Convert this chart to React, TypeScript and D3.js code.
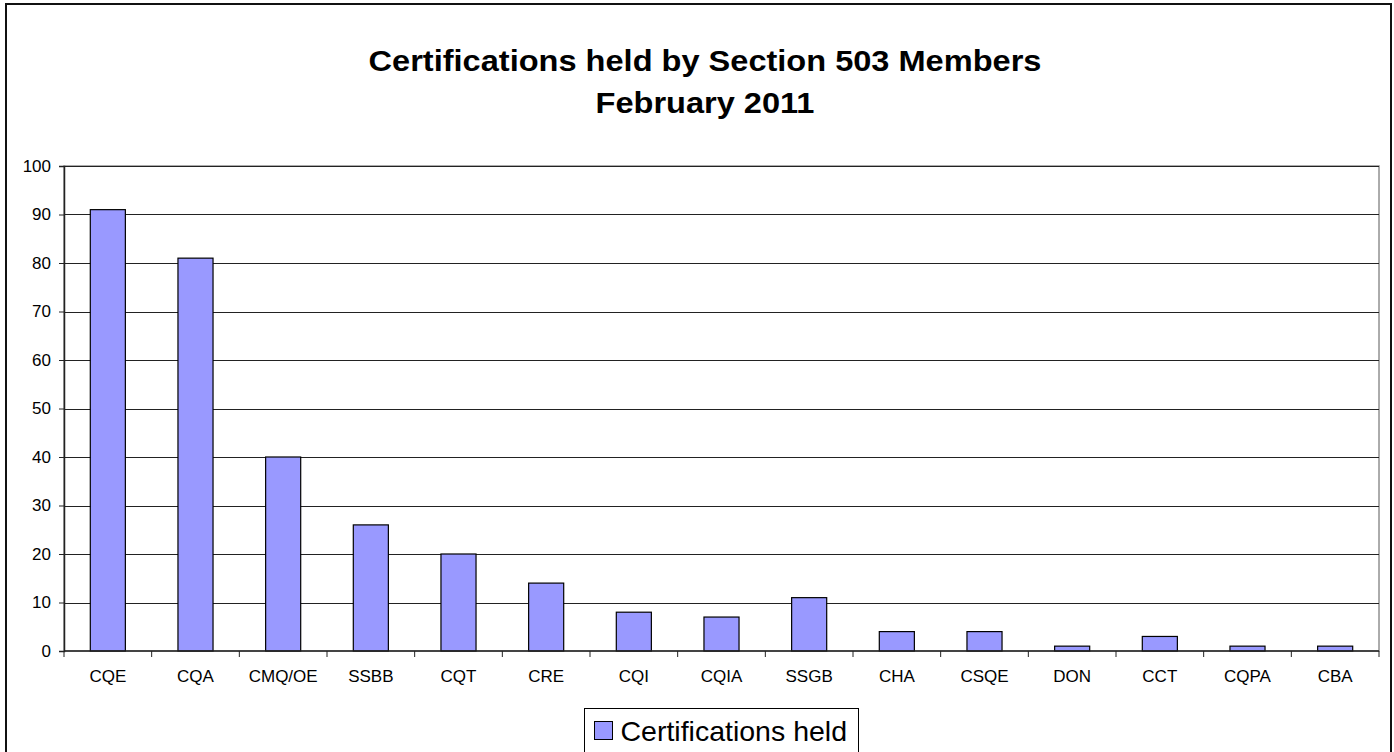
import { useEffect, useRef } from "react";
import * as d3 from "d3";

const categories = [
  "CQE", "CQA", "CMQ/OE", "SSBB", "CQT", "CRE", "CQI", "CQIA",
  "SSGB", "CHA", "CSQE", "DON", "CCT", "CQPA", "CBA",
];
const heldValues = [91, 81, 40, 26, 20, 14, 8, 7, 11, 4, 4, 1, 3, 1, 1];
const yTicks = [0, 10, 20, 30, 40, 50, 60, 70, 80, 90, 100];
const titleLines = ["Certifications held by Section 503 Members", "February 2011"];
const seriesName = "Certifications held";

const W = 1394;
const H = 752;
const margin = { top: 166, right: 15, bottom: 101, left: 64 };
const barColor = "#9999FF";
const font = "'Liberation Sans', Arial, sans-serif";

export default function App() {
  const ref = useRef<SVGSVGElement>(null);

  useEffect(() => {
    const svg = d3.select(ref.current).select<SVGGElement>("g.chart");
    svg.selectAll("*").remove();

    const innerW = W - margin.left - margin.right;
    const innerH = H - margin.top - margin.bottom;

    // title
    svg
      .append("g")
      .attr("transform", "translate(705,0) scale(1.085,1)")
      .selectAll("text")
      .data(titleLines)
      .enter()
      .append("text")
      .attr("x", 0)
      .attr("y", (_, i) => 71 + i * 42)
      .attr("text-anchor", "middle")
      .attr("font-family", font)
      .attr("font-weight", "bold")
      .attr("font-size", 30)
      .text((d) => d);

    const g = svg
      .append("g")
      .attr("transform", `translate(${margin.left},${margin.top})`);

    const x = d3.scaleBand().domain(categories).range([0, innerW]).paddingInner(0.6).paddingOuter(0.3);
    const bandStep = innerW / categories.length;
    const y = d3.scaleLinear().domain([0, 100]).range([innerH, 0]);

    // plot area border (gray)
    g.append("rect")
      .attr("x", 0)
      .attr("y", 0)
      .attr("width", innerW)
      .attr("height", innerH)
      .attr("fill", "white")
      .attr("stroke", "#909090")
      .attr("stroke-width", 1.5);

    // gridlines
    g.selectAll(".grid")
      .data(yTicks.filter((t) => t > 0))
      .enter()
      .append("line")
      .attr("x1", 0)
      .attr("x2", innerW)
      .attr("y1", (d) => Math.round(y(d)) + 0.5)
      .attr("y2", (d) => Math.round(y(d)) + 0.5)
      .attr("stroke", "#222")
      .attr("stroke-width", 1);

    // bars
    g.selectAll(".bar")
      .data(heldValues)
      .enter()
      .append("rect")
      .attr("x", (_, i) => x(categories[i])!)
      .attr("y", (d) => y(d))
      .attr("width", x.bandwidth())
      .attr("height", (d) => innerH - y(d))
      .attr("fill", barColor)
      .attr("stroke", "black")
      .attr("stroke-width", 1.2);

    // y axis
    const yAxis = g
      .append("g")
      .call(d3.axisLeft(y).tickValues(yTicks).tickSize(5).tickPadding(8))
      .attr("font-family", font)
      .attr("font-size", 17);
    yAxis.select(".domain").attr("stroke", "#222").attr("stroke-width", 1.5);
    yAxis.selectAll(".tick line").attr("stroke", "#222");
    yAxis.selectAll("text").attr("fill", "black");

    // x axis
    const xg = g.append("g").attr("transform", `translate(0,${innerH})`);
    xg.append("line")
      .attr("x1", 0)
      .attr("x2", innerW)
      .attr("stroke", "#222")
      .attr("stroke-width", 1.5);
    xg.selectAll(".xtick")
      .data(d3.range(categories.length + 1))
      .enter()
      .append("line")
      .attr("x1", (i) => i * bandStep)
      .attr("x2", (i) => i * bandStep)
      .attr("y1", 0)
      .attr("y2", 6)
      .attr("stroke", "#222");
    xg.selectAll(".xlabel")
      .data(categories)
      .enter()
      .append("text")
      .attr("x", (d) => x(d)! + x.bandwidth() / 2)
      .attr("y", 31)
      .attr("text-anchor", "middle")
      .attr("font-family", font)
      .attr("font-size", 17)
      .text((d) => d);

    // legend
    const lg = svg.append("g").attr("transform", "translate(584.5,708.5)");
    lg.append("rect")
      .attr("width", 274)
      .attr("height", 50)
      .attr("fill", "white")
      .attr("stroke", "black")
      .attr("stroke-width", 1);
    lg.append("rect")
      .attr("x", 10)
      .attr("y", 13)
      .attr("width", 18)
      .attr("height", 18)
      .attr("fill", barColor)
      .attr("stroke", "black")
      .attr("stroke-width", 1);
    lg.append("text")
      .attr("x", 36)
      .attr("y", 32)
      .attr("font-family", font)
      .attr("font-size", 28.5)
      .text(seriesName);
  }, []);

  return (
    <div style={{ position: "absolute", left: 0, top: 0 }}>
      <svg ref={ref} width={W} height={H} style={{ display: "block", background: "white" }}>
        <g className="chart" />
        {/* outer chart frame */}
        <rect x={6} y={4} width={1385} height={H + 10} fill="none" stroke="#111" strokeWidth={2} />
      </svg>
    </div>
  );
}
